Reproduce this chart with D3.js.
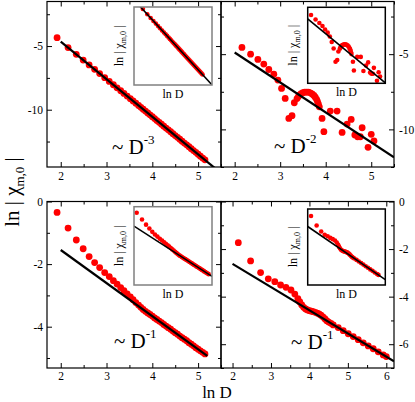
<!DOCTYPE html>
<html>
<head>
<meta charset="utf-8">
<style>
body { margin: 0; background: #fff; }
text { font-family: "Liberation Serif", "DejaVu Serif", serif; fill: #000; }
.dot { fill: #ff0000; }
.fit { stroke: #000; fill: none; }
</style>
</head>
<body>
<script src="https://cdn.jsdelivr.net/npm/d3@7"></script>
<script>

// ---- data ----
var x1 = [1.92, 2.16, 2.34, 2.49, 2.62, 2.74, 2.85, 2.96, 3.06, 3.15, 3.23, 3.31, 3.38, 3.45, 3.52, 3.58, 3.64, 3.70, 3.75, 3.80,
          3.85, 3.90, 3.95, 4.00, 4.05, 4.10, 4.15, 4.20, 4.25, 4.30, 4.35, 4.40, 4.45, 4.50, 4.55, 4.60, 4.65, 4.70, 4.75, 4.80,
          4.85, 4.90, 4.95, 5.00, 5.05, 5.10, 5.15];
var y1 = [-4.34, -5.12, -5.65, -6.10, -6.48, -6.83, -7.16, -7.48, -7.78, -8.04, -8.28, -8.51, -8.72, -8.93, -9.13, -9.31, -9.49, -9.67, -9.81, -9.96,
          -10.11, -10.26, -10.40, -10.55, -10.70, -10.85, -10.99, -11.14, -11.29, -11.44, -11.58, -11.73, -11.88, -12.03, -12.17, -12.32, -12.47, -12.62, -12.76, -12.91,
          -13.06, -13.21, -13.35, -13.50, -13.65, -13.80, -13.94];

var x2 = [2.16, 2.35, 2.51, 2.64, 2.75, 2.86, 2.95, 3.03, 3.11, 3.19, 3.26, 3.31, 3.37, 3.40, 3.43, 3.46, 3.50, 3.54, 3.58, 3.62,
          3.66, 3.70, 3.74, 3.77, 3.80, 3.82, 3.84, 3.86, 3.92, 3.96, 4.10, 4.25, 4.36, 4.47, 4.56, 4.64, 4.70, 4.76, 4.80, 4.93,
          5.00, 5.06];
var y2 = [-4.55, -5.00, -5.35, -5.66, -6.02, -6.33, -6.72, -7.28, -7.94, -9.27, -9.09, -8.23, -7.95, -7.82, -7.70, -7.62, -7.56, -7.53, -7.52, -7.53,
          -7.57, -7.64, -7.74, -7.86, -8.00, -8.15, -8.32, -8.50, -9.27, -10.15, -8.78, -8.78, -10.20, -9.65, -9.34, -10.37, -10.49, -10.49, -9.89, -11.19,
          -10.33, -10.77];

var x3 = [1.92, 2.16, 2.34, 2.49, 2.62, 2.74, 2.85, 2.96, 3.06, 3.15, 3.23, 3.31, 3.38, 3.45, 3.52, 3.58, 3.64, 3.70, 3.75, 3.80,
          3.85, 3.90, 3.95, 4.00, 4.05, 4.10, 4.15, 4.20, 4.25, 4.30, 4.35, 4.40, 4.45, 4.50, 4.55, 4.60, 4.65, 4.70, 4.75, 4.80,
          4.85, 4.90, 4.95, 5.00, 5.05, 5.10, 5.15];
var y3 = [-0.35, -0.85, -1.23, -1.51, -1.76, -1.95, -2.11, -2.27, -2.40, -2.53, -2.64, -2.75, -2.85, -2.95, -3.05, -3.14, -3.23, -3.31, -3.38, -3.45,
          -3.51, -3.56, -3.61, -3.66, -3.72, -3.77, -3.82, -3.87, -3.93, -3.98, -4.03, -4.08, -4.14, -4.19, -4.24, -4.30, -4.35, -4.40, -4.45, -4.51,
          -4.56, -4.61, -4.67, -4.72, -4.77, -4.82, -4.87];

var x4 = [2.15, 2.47, 2.73, 2.93, 3.10, 3.25, 3.39, 3.52, 3.62, 3.70, 3.75, 3.80, 3.85, 3.90, 3.95, 4.00, 4.05, 4.10, 4.15, 4.20,
          4.25, 4.30, 4.35, 4.40, 4.45, 4.50, 4.56, 4.62, 4.75, 4.88, 5.01, 5.14, 5.27, 5.40, 5.53, 5.66, 5.79, 5.92, 6.00];
var y4 = [-1.73, -2.50, -2.99, -3.25, -3.37, -3.51, -3.61, -3.72, -3.89, -4.08, -4.22, -4.35, -4.45, -4.52, -4.56, -4.59, -4.61, -4.63, -4.66, -4.69,
          -4.73, -4.78, -4.85, -4.93, -5.01, -5.07, -5.12, -5.19, -5.30, -5.43, -5.56, -5.68, -5.81, -5.94, -6.07, -6.19, -6.32, -6.45, -6.52];

// power-law guide lines, two end points each
var fitX1 = [2, 5.5], fitY1 = [-4.65, -14.98];
var fitX2 = [2, 5.5], fitY2 = [-4.89, -11.85];
var fitX3 = [2, 5.2], fitY3 = [-1.55, -4.93];
var fitX4 = [2, 6.2], fitY4 = [-2.62, -6.72];

var exponents = ["-3", "-2", "-1", "-1"];

// tick labels
var xTicksA = [2, 3, 4, 5];
var xTicksB = [2, 3, 4, 5, 6];
var yTicks1 = [-10, -5];
var yTicks2 = [-10, -5];
var yTicks3 = [-4, -2, 0];
var yTicks4 = [-6, -4, -2, 0];

// ---- layout ----
var panels = [
  { id: 1, x: x1, y: y1, fx: fitX1, fy: fitY1, xDom: [1.7, 5.5], yDom: [-14.5, -1.5], xTicks: xTicksA, yTicks: yTicks1, yMinor: 2.5,
    side: "left", box: [47, 1.5, 221, 167], note: [112, 154], xPad: 5,
    inset: { box: [134, 7, 212, 85], xDom: [1.44, 5.66], yDom: [-15.47, -4.05], stroke: "#808080" } },
  { id: 2, x: x2, y: y2, fx: fitX2, fy: fitY2, xDom: [1.7, 5.5], yDom: [-12.5, -1.5], xTicks: xTicksA, yTicks: yTicks2, yMinor: 2.5,
    side: "right", box: [221, 1.5, 394, 167], note: [274, 153], xPad: 5,
    inset: { box: [307.7, 7.3, 385.3, 83.3], xDom: [2.02, 5.28], yDom: [-11.45, -3.77], stroke: "#000" } },
  { id: 3, x: x3, y: y3, fx: fitX3, fy: fitY3, xDom: [1.7, 5.5], yDom: [-5.32, 0], xTicks: xTicksA, yTicks: yTicks3, yMinor: 1,
    side: "left", box: [47, 201.5, 221, 368], note: [114, 347.5], xPad: 4,
    inset: { box: [134, 206.7, 212, 285], xDom: [1.8, 5.3], yDom: [-5.67, 0.09], stroke: "#808080" } },
  { id: 4, x: x4, y: y4, fx: fitX4, fy: fitY4, xDom: [1.7, 6.2], yDom: [-7, 0], xTicks: xTicksB, yTicks: yTicks4, yMinor: 1,
    side: "right", box: [221, 201.5, 394, 368], note: [291, 349], xPad: 4,
    inset: { box: [307.7, 209, 385.3, 285], xDom: [1.96, 6.39], yDom: [-7.34, -1.16], stroke: "#000" } }
];

var svg = d3.select("body").append("svg")
    .attr("width", 415)
    .attr("height", 402);

var defs = svg.append("defs");

function minorTicks(dom, step, majors) {
  var lo = Math.ceil(dom[0] / step - 1e-9) * step;
  return d3.range(lo, dom[1] + 1e-9, step).filter(function(v) {
    return majors.every(function(m) { return Math.abs(m - v) > 1e-6; });
  });
}

function styleAxis(g) {
  g.select(".domain").remove();
  g.attr("font-family", "Liberation Serif, serif").attr("font-size", 11.5);
}

function plotData(g, p, b, xDom, yDom, r, lw, clipId, full) {
  var x = d3.scaleLinear().domain(xDom).range([b[0], b[2]]);
  var y = d3.scaleLinear().domain(yDom).range([b[3], b[1]]);

  defs.append("clipPath").attr("id", clipId)
    .append("rect")
    .attr("x", b[0]).attr("y", b[1])
    .attr("width", b[2] - b[0]).attr("height", b[3] - b[1]);

  var area = g.append("g").attr("clip-path", "url(#" + clipId + ")");

  area.selectAll("circle")
    .data(p.x)
    .enter().append("circle")
    .attr("class", "dot")
    .attr("cx", function(d) { return x(d); })
    .attr("cy", function(d, i) { return y(p.y[i]); })
    .attr("r", r);

  // guide line; inside the insets it runs over the whole width
  var fit = d3.scaleLinear().domain(p.fx).range(p.fy);
  var ends = full ? xDom : p.fx;
  var line = d3.line()
      .x(function(d) { return x(d); })
      .y(function(d) { return y(fit(d)); });
  area.append("path")
    .datum(ends)
    .attr("class", "fit")
    .attr("stroke-width", lw)
    .attr("d", line);

  return { x: x, y: y };
}

panels.forEach(function(p) {
  var b = p.box;
  var g = svg.append("g");
  var s = plotData(g, p, b, p.xDom, p.yDom, 3.4, 2.2, "clip" + p.id, false);
  var x = s.x, y = s.y;

  var xMinor = minorTicks(p.xDom, 0.5, p.xTicks);
  var yMinor = minorTicks(p.yDom, p.yMinor, p.yTicks);

  // bottom (labelled) and top
  g.append("g").attr("transform", "translate(0," + b[3] + ")")
    .call(d3.axisBottom(x).tickValues(p.xTicks).tickSize(-5).tickPadding(p.xPad).tickFormat(function(d) { return String(d); }))
    .call(styleAxis);
  g.append("g").attr("transform", "translate(0," + b[3] + ")")
    .call(d3.axisBottom(x).tickValues(xMinor).tickSize(-3).tickFormat(""))
    .call(styleAxis);
  g.append("g").attr("transform", "translate(0," + b[1] + ")")
    .call(d3.axisTop(x).tickValues(p.xTicks).tickSize(-5).tickFormat(""))
    .call(styleAxis);
  g.append("g").attr("transform", "translate(0," + b[1] + ")")
    .call(d3.axisTop(x).tickValues(xMinor).tickSize(-3).tickFormat(""))
    .call(styleAxis);

  // y axes: labels on the outer side
  var labelled = p.side == "left" ? d3.axisLeft(y) : d3.axisRight(y);
  var plain = p.side == "left" ? d3.axisRight(y) : d3.axisLeft(y);
  var labX = p.side == "left" ? b[0] : b[2];
  var plainX = p.side == "left" ? b[2] : b[0];
  var labMinor = p.side == "left" ? d3.axisLeft(y) : d3.axisRight(y);
  var plainMinor = p.side == "left" ? d3.axisRight(y) : d3.axisLeft(y);

  g.append("g").attr("transform", "translate(" + labX + ",0)")
    .call(labelled.tickValues(p.yTicks).tickSize(-5).tickPadding(p.side == "left" ? 4 : 5).tickFormat(function(d) { return String(d); }))
    .call(styleAxis);
  g.append("g").attr("transform", "translate(" + labX + ",0)")
    .call(labMinor.tickValues(yMinor).tickSize(-3).tickFormat(""))
    .call(styleAxis);
  g.append("g").attr("transform", "translate(" + plainX + ",0)")
    .call(plain.tickValues(p.yTicks).tickSize(-5).tickFormat(""))
    .call(styleAxis);
  g.append("g").attr("transform", "translate(" + plainX + ",0)")
    .call(plainMinor.tickValues(yMinor).tickSize(-3).tickFormat(""))
    .call(styleAxis);

  g.append("rect")
    .attr("x", b[0]).attr("y", b[1])
    .attr("width", b[2] - b[0]).attr("height", b[3] - b[1])
    .attr("fill", "none").attr("stroke", "#000").attr("stroke-width", 1.2);

  // ~ D^n note
  var note = g.append("text")
    .attr("x", p.note[0]).attr("y", p.note[1])
    .attr("font-size", 21)
    .text("~ D");
  note.append("tspan")
    .attr("dy", -10)
    .attr("font-size", 13)
    .text(exponents[p.id - 1]);

  // inset
  var ib = p.inset.box;
  var ig = svg.append("g");
  ig.append("rect")
    .attr("x", ib[0]).attr("y", ib[1])
    .attr("width", ib[2] - ib[0]).attr("height", ib[3] - ib[1])
    .attr("fill", "#fff");
  plotData(ig, p, ib, p.inset.xDom, p.inset.yDom, 2.3, 1.6, "iclip" + p.id, true);
  ig.append("rect")
    .attr("x", ib[0]).attr("y", ib[1])
    .attr("width", ib[2] - ib[0]).attr("height", ib[3] - ib[1])
    .attr("fill", "none").attr("stroke", p.inset.stroke).attr("stroke-width", 1.5);

  ig.append("text")
    .attr("x", (ib[0] + ib[2]) / 2).attr("y", ib[3] + 13)
    .attr("text-anchor", "middle")
    .attr("font-size", 12)
    .text("ln D");

  var iy = ig.append("text")
    .attr("transform", "translate(" + (ib[0] - 11) + "," + ((ib[1] + ib[3]) / 2) + ") rotate(-90)")
    .attr("text-anchor", "middle")
    .attr("font-size", 12)
    .text("ln | χ");
  iy.append("tspan").attr("dy", 3).attr("font-size", 8).text("m,0");
  iy.append("tspan").attr("dy", -3).text(" |");
});

// shared axis titles
var yt = svg.append("text")
    .attr("transform", "translate(19,192) rotate(-90)")
    .attr("text-anchor", "middle")
    .attr("font-size", 21)
    .text("ln | χ");
yt.append("tspan").attr("dy", 5).attr("font-size", 13).text("m,0");
yt.append("tspan").attr("dy", -5).text(" |");

svg.append("text")
    .attr("x", 217).attr("y", 398)
    .attr("text-anchor", "middle")
    .attr("font-size", 17)
    .text("ln D");

</script>
</body>
</html>
